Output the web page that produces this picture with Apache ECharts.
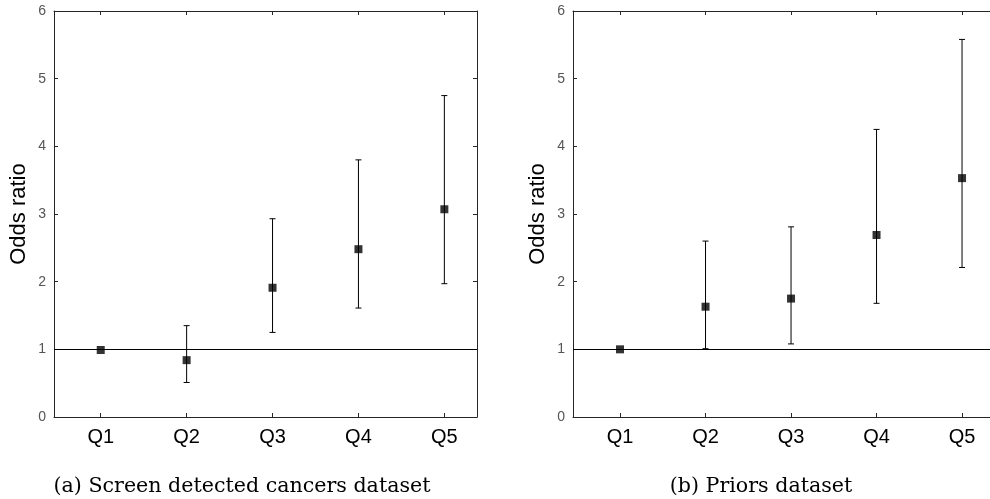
<!DOCTYPE html>
<html>
<head>
<meta charset="utf-8">
<script src="https://cdn.jsdelivr.net/npm/echarts@6/dist/echarts.min.js"></script>
<style>
html,body{margin:0;padding:0;background:#fff;}
#main{width:990px;height:499px;}
</style>
</head>
<body>
<div id="main"></div>
<script>
// quintiles
var categories = ['Q1', 'Q2', 'Q3', 'Q4', 'Q5'];
var yTicks = [0, 1, 2, 3, 4, 5, 6];

// (a) screen detected cancers
var screenOR = [0.99, 0.84, 1.91, 2.48, 3.07];
var screenLo = [0.99, 0.51, 1.25, 1.61, 1.97];
var screenHi = [0.99, 1.35, 2.93, 3.80, 4.75];

// (b) priors
var priorsOR = [1.00, 1.63, 1.75, 2.69, 3.53];
var priorsLo = [1.00, 1.01, 1.08, 1.68, 2.21];
var priorsHi = [1.00, 2.60, 2.81, 4.25, 5.58];

var captions = ['(a) Screen detected cancers dataset', '(b) Priors dataset'];

var chart = echarts.init(document.getElementById('main'));
var axisColor = '#262626';
var xPos = categories.map(function (c, i) { return i + 1; });

function errorBars(idx, lo, hi) {
    return {
        type: 'custom',
        xAxisIndex: idx * 2,
        yAxisIndex: idx * 2,
        data: xPos.map(function (x, i) { return [x, lo[i], hi[i]]; }),
        renderItem: function (params, api) {
            var l = api.value(1), h = api.value(2);
            if (l === h) return null;
            var p1 = api.coord([api.value(0), l]);
            var p2 = api.coord([api.value(0), h]);
            var cw = 3;
            var st = { stroke: '#000', lineWidth: 1 };
            return {
                type: 'group',
                children: [
                    { type: 'line', shape: { x1: p1[0], y1: p1[1], x2: p2[0], y2: p2[1] }, style: st },
                    { type: 'line', shape: { x1: p1[0] - cw, y1: p1[1], x2: p1[0] + cw, y2: p1[1] }, style: st },
                    { type: 'line', shape: { x1: p2[0] - cw, y1: p2[1], x2: p2[0] + cw, y2: p2[1] }, style: st }
                ]
            };
        },
        z: 3
    };
}

function points(idx, vals) {
    return {
        type: 'scatter',
        xAxisIndex: idx * 2,
        yAxisIndex: idx * 2,
        symbol: 'rect',
        symbolSize: 8,
        itemStyle: { color: '#000' },
        data: xPos.map(function (x, i) { return [x, vals[i]]; }),
        markLine: {
            silent: true,
            symbol: 'none',
            label: { show: false },
            lineStyle: { color: '#000', width: 1, type: 'solid' },
            data: [{ yAxis: 1 }]
        },
        z: 4
    };
}

// right panel runs off the edge of the page, so its right border is not shown
var grids = [
    { left: 54, top: 11, width: 423, height: 406 },
    { left: 573, top: 11, right: 0, height: 406 }
];
var xMin = [0.456, 0.45];
var xMax = [5.38, 5.327];
var showRight = [true, false];

var xAxes = [], yAxes = [];
grids.forEach(function (g, i) {
    var base = {
        gridIndex: i, type: 'value', min: xMin[i], max: xMax[i],
        axisLine: { show: true, onZero: false, lineStyle: { color: axisColor, width: 1 } },
        splitLine: { show: false }
    };
    xAxes.push(Object.assign({}, base, {
        position: 'bottom',
        axisTick: { show: true, inside: true, length: 4, customValues: xPos, lineStyle: { color: axisColor } },
        axisLabel: {
            customValues: xPos, margin: 10,
            fontFamily: 'Liberation Sans', fontSize: 20, color: '#000',
            formatter: function (v) { return categories[Math.round(v) - 1] || ''; }
        }
    }));
    xAxes.push(Object.assign({}, base, {
        position: 'top',
        axisTick: { show: true, inside: true, length: 4, customValues: xPos, lineStyle: { color: axisColor } },
        axisLabel: { show: false }
    }));
    var ybase = {
        gridIndex: i, type: 'value', min: yTicks[0], max: yTicks[yTicks.length - 1], interval: 1,
        axisLine: { show: true, onZero: false, lineStyle: { color: axisColor, width: 1 } },
        axisTick: { show: true, inside: true, length: 4, lineStyle: { color: axisColor } },
        splitLine: { show: false }
    };
    yAxes.push(Object.assign({}, ybase, {
        position: 'left',
        name: 'Odds ratio',
        nameLocation: 'middle',
        nameGap: 24,
        nameTextStyle: { fontFamily: 'Liberation Sans', fontSize: 22, color: '#000' },
        axisLabel: { margin: 8, fontFamily: 'Liberation Sans', fontSize: 14, color: '#555' }
    }));
    yAxes.push(Object.assign({}, ybase, {
        position: 'right',
        axisLine: { show: showRight[i], onZero: false, lineStyle: { color: axisColor, width: 1 } },
        axisTick: { show: showRight[i], inside: true, length: 4, lineStyle: { color: axisColor } },
        axisLabel: { show: false }
    }));
});

var captionStyle = { fontFamily: 'DejaVu Serif', fontSize: 20.6, fontWeight: 'normal', color: '#000' };

chart.setOption({
    animation: false,
    backgroundColor: '#fff',
    grid: grids,
    xAxis: xAxes,
    yAxis: yAxes,
    title: [
        { text: captions[0], left: 237, top: 471, textAlign: 'center', textStyle: captionStyle },
        { text: captions[1], left: 756, top: 471, textAlign: 'center', textStyle: captionStyle }
    ],
    series: [
        errorBars(0, screenLo, screenHi),
        points(0, screenOR),
        errorBars(1, priorsLo, priorsHi),
        points(1, priorsOR)
    ]
});
</script>
</body>
</html>
